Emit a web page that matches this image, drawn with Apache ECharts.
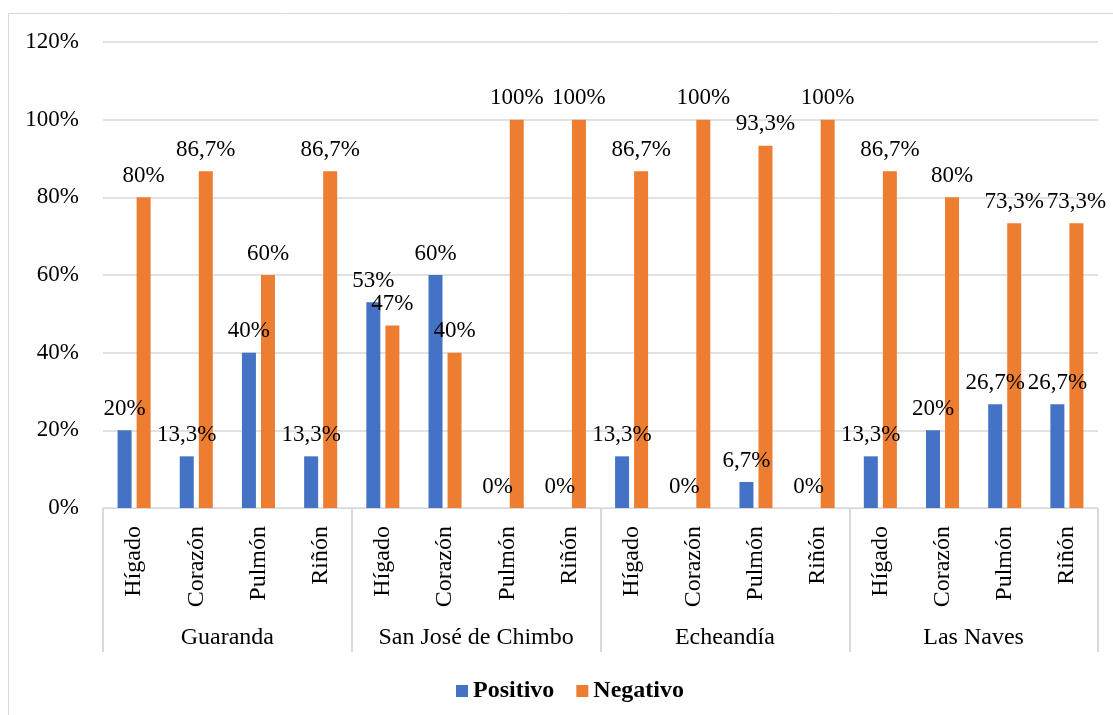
<!DOCTYPE html>
<html>
<head>
<meta charset="utf-8">
<title>Positivo / Negativo por órgano y cantón</title>
<script src="https://cdn.jsdelivr.net/npm/echarts@6/dist/echarts.min.js"></script>
<style>
  html, body { margin: 0; padding: 0; background: #ffffff; }
  #chart { width: 1113px; height: 715px; }
</style>
</head>
<body>
<div id="chart"></div>
<script>
// Organs examined in each canton, and the cantons that group them
const organs = ['Hígado', 'Corazón', 'Pulmón', 'Riñón'];
const cantons = ['Guaranda', 'San José de Chimbo', 'Echeandía', 'Las Naves'];

// Percentages per organ, in canton order (4 organs each)
const positivo = [20, 13.3, 40, 13.3, 53, 60, 0, 0, 13.3, 0, 6.7, 0, 13.3, 20, 26.7, 26.7];
const negativo = [80, 86.7, 60, 86.7, 47, 40, 100, 100, 86.7, 100, 93.3, 100, 86.7, 80, 73.3, 73.3];

// Y-axis ticks
const yMin = 0, yMax = 120, yStep = 20;

const categories = [];
cantons.forEach(() => organs.forEach(o => categories.push(o)));

const FONT = '"Liberation Serif", "Times New Roman", serif';
const TEXT = '#000000';
const GRID = '#d9d9d9';

const pct = v => String(v).replace('.', ',') + '%';

const chart = echarts.init(document.getElementById('chart'), null, { renderer: 'canvas' });

const barLabel = {
  show: true,
  position: 'top',
  distance: 10,
  fontFamily: FONT,
  fontSize: 23,
  color: TEXT,
  formatter: p => pct(p.value)
};

chart.setOption({
  animation: false,
  backgroundColor: '#ffffff',
  textStyle: { fontFamily: FONT },
  graphic: [{
    type: 'rect',
    shape: { x: 8.5, y: 13.5, width: 1200, height: 800 },
    style: { fill: 'none', stroke: '#d9d9d9', lineWidth: 1 },
    silent: true, z: -10
  }],
  legend: {
    left: 451,
    top: 674,
    itemWidth: 12,
    itemHeight: 12,
    itemGap: 22,
    icon: 'rect',
    textStyle: { fontFamily: FONT, fontSize: 24, fontWeight: 'bold', color: TEXT },
    data: ['Positivo', 'Negativo']
  },
  grid: { left: 103, right: 15, top: 42, bottom: 207, containLabel: false },
  xAxis: [{
    type: 'category',
    data: categories,
    position: 'bottom',
    axisLine: { show: true, lineStyle: { color: GRID, width: 1 } },
    axisTick: { show: false },
    axisLabel: {
      rotate: 90,
      margin: 18,
      interval: 0,
      fontFamily: FONT,
      fontSize: 24,
      color: TEXT
    }
  }, {
    type: 'category',
    data: cantons,
    position: 'bottom',
    axisLine: { show: false },
    axisTick: { show: true, length: 144, lineStyle: { color: GRID, width: 2 } },
    axisLabel: {
      margin: 118,
      interval: 0,
      fontFamily: FONT,
      fontSize: 24,
      color: TEXT
    }
  }],
  yAxis: {
    type: 'value',
    min: yMin,
    max: yMax,
    interval: yStep,
    axisLine: { show: false },
    axisTick: { show: false },
    splitLine: { lineStyle: { color: GRID, width: 1.5 } },
    axisLabel: {
      margin: 24,
      fontFamily: FONT,
      fontSize: 23,
      color: TEXT,
      formatter: v => v + '%'
    }
  },
  series: [{
    name: 'Positivo',
    type: 'bar',
    xAxisIndex: 0,
    data: positivo,
    barWidth: 14,
    barGap: '36%',
    itemStyle: { color: '#4472c4' },
    label: barLabel
  }, {
    name: 'Negativo',
    type: 'bar',
    xAxisIndex: 0,
    data: negativo,
    barWidth: 14,
    barGap: '36%',
    itemStyle: { color: '#ed7d31' },
    label: barLabel
  }]
});
</script>
</body>
</html>
